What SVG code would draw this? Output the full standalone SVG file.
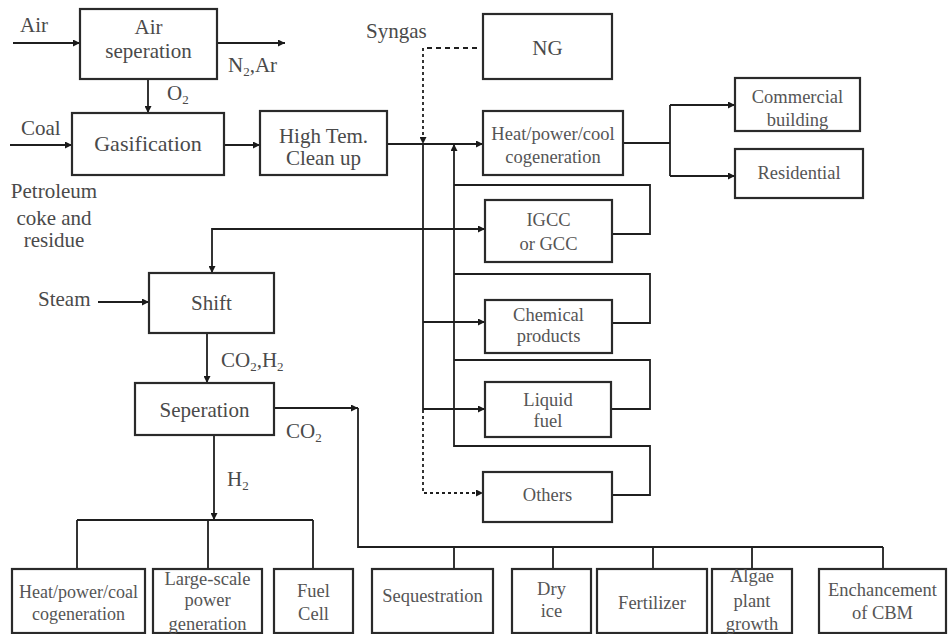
<svg xmlns="http://www.w3.org/2000/svg" width="948" height="634" viewBox="0 0 948 634">
<defs>
<marker id="ah" viewBox="0 0 10 10" refX="10" refY="5" markerWidth="8" markerHeight="7" markerUnits="userSpaceOnUse" orient="auto">
<path d="M0,0 L10,5 L0,10 z" fill="#1a1a1a"/>
</marker>
<style>
.box{fill:#fff;stroke:#2a2a2a;stroke-width:2.2}
.c{fill:none;stroke:#1f1f1f;stroke-width:1.8}
text{font-family:'Liberation Serif','Times New Roman',Times,serif}
.t{font-size:21px;fill:#4a4a4a;text-anchor:middle}
.l{font-size:21px;fill:#4a4a4a}
.p{font-size:18.5px;fill:#555;text-anchor:middle}
.s{font-size:13px}
</style>
</defs>
<rect width="948" height="634" fill="#fff"/>

<g id="connectors">
<path class="c" d="M13,43 H80" marker-end="url(#ah)"/>
<path class="c" d="M217,43 H285" marker-end="url(#ah)"/>
<path class="c" d="M148,79 V113" marker-end="url(#ah)"/>
<path class="c" d="M10,145 H72" marker-end="url(#ah)"/>
<path class="c" d="M224,145 H260" marker-end="url(#ah)"/>
<path class="c" d="M387,144 H483" marker-end="url(#ah)"/>
<path class="c" d="M477,48 H423" stroke-dasharray="5,4" stroke-width="2.2"/>
<path class="c" d="M423,48 V144" stroke-dasharray="3,3" stroke-width="2.2" marker-end="url(#ah)"/>
<path class="c" d="M423,144 V410"/>
<path class="c" d="M423,229 H485" marker-end="url(#ah)"/>
<path class="c" d="M423,322 H485" marker-end="url(#ah)"/>
<path class="c" d="M423,409 H485" marker-end="url(#ah)"/>
<path class="c" d="M423,410 V493 H483" stroke-dasharray="3,3" marker-end="url(#ah)"/>
<path class="c" d="M423,229 H212 V273" marker-end="url(#ah)"/>
<path class="c" d="M454,447 V144" marker-end="url(#ah)"/>
<path class="c" d="M612,234 H650 V185 H454"/>
<path class="c" d="M612,323 H650 V274 H454"/>
<path class="c" d="M612,409 H650 V360 H454"/>
<path class="c" d="M612,495 H650 V446 H454"/>
<path class="c" d="M623,143 H670"/>
<path class="c" d="M670,105 V176"/>
<path class="c" d="M670,105 H735" marker-end="url(#ah)"/>
<path class="c" d="M670,176 H735" marker-end="url(#ah)"/>
<path class="c" d="M98,302 H149" marker-end="url(#ah)"/>
<path class="c" d="M207,333 V383" marker-end="url(#ah)"/>
<path class="c" d="M274,408 H358" marker-end="url(#ah)"/>
<path class="c" d="M358,408 V547 H883"/>
<path class="c" d="M454,547 V569 M553,547 V569 M653,547 V569 M752,547 V569 M883,547 V569"/>
<path class="c" d="M214,435 V520" marker-end="url(#ah)"/>
<path class="c" d="M77,520 H313 M77,520 V569 M208,520 V569 M313,520 V569"/>
</g>

<g id="labels">
<text class="l" x="20" y="32">Air</text>
<text class="l" x="228" y="72">N<tspan class="s" dy="4">2</tspan><tspan dy="-4">,Ar</tspan></text>
<text class="l" x="167" y="100">O<tspan class="s" dy="4">2</tspan></text>
<text class="l" x="21" y="135">Coal</text>
<text class="t" x="54" y="198">Petroleum</text>
<text class="t" x="54" y="225">coke and</text>
<text class="t" x="54" y="247">residue</text>
<text class="l" x="366" y="38">Syngas</text>
<text class="l" x="38" y="306">Steam</text>
<text class="l" x="221" y="367">CO<tspan class="s" dy="4">2</tspan><tspan dy="-4">,H</tspan><tspan class="s" dy="4">2</tspan></text>
<text class="l" x="286" y="438">CO<tspan class="s" dy="4">2</tspan></text>
<text class="l" x="227" y="486">H<tspan class="s" dy="4">2</tspan></text>
</g>

<g id="air-separation"><rect class="box" x="80" y="9" width="137" height="70"/><text class="t" x="148.5" y="34">Air</text><text class="t" x="148.5" y="58">seperation</text></g>
<g id="gasification"><rect class="box" x="72" y="113" width="152" height="62"/><text class="t" x="148" y="151" style="font-size:22px">Gasification</text></g>
<g id="high-tem-clean-up"><rect class="box" x="260" y="111" width="127" height="64"/><text class="t" x="323.5" y="143">High Tem.</text><text class="t" x="323.5" y="165">Clean up</text></g>
<g id="ng"><rect class="box" x="483" y="14" width="129" height="65"/><text class="t" x="547.5" y="55">NG</text></g>
<g id="heat-power-cool"><rect class="box" x="483" y="111" width="140" height="64"/><text class="p" x="553" y="140">Heat/power/cool</text><text class="p" x="553" y="163">cogeneration</text></g>
<g id="commercial-building"><rect class="box" x="735" y="78" width="125" height="53"/><text class="p" x="797.5" y="103">Commercial</text><text class="p" x="797.5" y="126">building</text></g>
<g id="residential"><rect class="box" x="735" y="149" width="128" height="49"/><text class="p" x="799" y="179">Residential</text></g>
<g id="igcc"><rect class="box" x="485" y="200" width="127" height="62"/><text class="p" x="548.5" y="226">IGCC</text><text class="p" x="548.5" y="250">or GCC</text></g>
<g id="chemical-products"><rect class="box" x="485" y="300" width="127" height="53"/><text class="p" x="548.5" y="321">Chemical</text><text class="p" x="548.5" y="342">products</text></g>
<g id="liquid-fuel"><rect class="box" x="485" y="382" width="126" height="55"/><text class="p" x="548" y="406">Liquid</text><text class="p" x="548" y="427">fuel</text></g>
<g id="others"><rect class="box" x="483" y="472" width="129" height="50"/><text class="p" x="547.5" y="501">Others</text></g>
<g id="shift"><rect class="box" x="149" y="273" width="125" height="60"/><text class="t" x="211.5" y="310">Shift</text></g>
<g id="seperation"><rect class="box" x="135" y="383" width="139" height="52"/><text class="t" x="204.5" y="417">Seperation</text></g>

<g id="b-heat-power-coal"><rect class="box" x="12" y="569" width="133" height="64"/><text class="p" x="78.5" y="598" style="font-size:18px">Heat/power/coal</text><text class="p" x="78.5" y="620" style="font-size:18px">cogeneration</text></g>
<g id="b-large-scale"><rect class="box" x="153" y="569" width="109" height="64"/><text class="p" x="207.5" y="585">Large-scale</text><text class="p" x="207.5" y="606">power</text><text class="p" x="207.5" y="630">generation</text></g>
<g id="b-fuel-cell"><rect class="box" x="274" y="569" width="79" height="64"/><text class="p" x="313.5" y="597">Fuel</text><text class="p" x="313.5" y="620">Cell</text></g>
<g id="b-sequestration"><rect class="box" x="372" y="569" width="121" height="64"/><text class="p" x="432.5" y="602">Sequestration</text></g>
<g id="b-dry-ice"><rect class="box" x="512" y="569" width="79" height="64"/><text class="p" x="551.5" y="595">Dry</text><text class="p" x="551.5" y="617">ice</text></g>
<g id="b-fertilizer"><rect class="box" x="597" y="569" width="110" height="64"/><text class="p" x="652" y="609">Fertilizer</text></g>
<g id="b-algae"><rect class="box" x="712" y="569" width="80" height="64"/><text class="p" x="752" y="582">Algae</text><text class="p" x="752" y="607">plant</text><text class="p" x="752" y="630">growth</text></g>
<g id="b-enchancement"><rect class="box" x="819" y="569" width="127" height="64"/><text class="p" x="882.5" y="596">Enchancement</text><text class="p" x="882.5" y="619">of CBM</text></g>
</svg>
